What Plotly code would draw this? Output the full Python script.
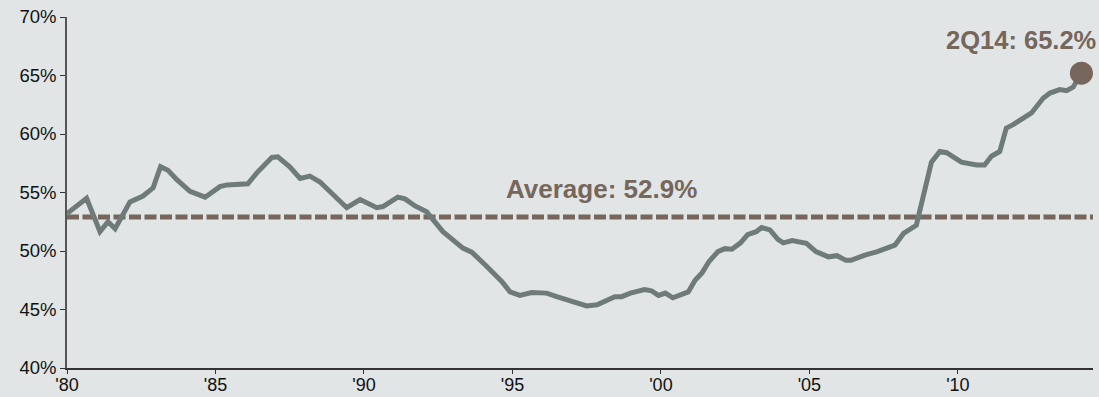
import plotly.graph_objects as go

# Quarterly share series (decimal year, percent)
years = [
    1980.0, 1980.5, 1980.66, 1981.11, 1981.38, 1981.62, 1982.12, 1982.56, 1982.9,
    1983.15, 1983.4, 1983.7, 1984.14, 1984.65, 1985.15, 1985.39, 1986.09, 1986.4,
    1986.9, 1987.1, 1987.5, 1987.85, 1988.18, 1988.52, 1988.96, 1989.42, 1989.87,
    1990.43, 1990.64, 1991.14, 1991.38, 1991.72, 1992.11, 1992.32, 1992.66,
    1993.33, 1993.63, 1994.13, 1994.64, 1994.92, 1995.25, 1995.65, 1996.15,
    1996.49, 1997.07, 1997.5, 1997.85, 1998.15, 1998.45, 1998.68, 1998.97,
    1999.45, 1999.68, 1999.92, 2000.15, 2000.4, 2000.68, 2000.92, 2001.15,
    2001.39, 2001.62, 2001.92, 2002.15, 2002.39, 2002.68, 2002.92, 2003.21,
    2003.39, 2003.67, 2003.94, 2004.12, 2004.42, 2004.9, 2005.22, 2005.64,
    2005.93, 2006.23, 2006.4, 2006.87, 2007.29, 2007.88, 2008.17, 2008.6,
    2008.89, 2009.11, 2009.39, 2009.62, 2010.12, 2010.63, 2010.9, 2011.13,
    2011.41, 2011.63, 2011.86, 2012.14, 2012.48, 2012.87, 2013.1, 2013.43,
    2013.66, 2013.88, 2014.16,
]
share = [
    53.2, 54.1, 54.5, 51.65, 52.5, 51.9, 54.2, 54.7, 55.4,
    57.2, 56.9, 56.1, 55.1, 54.6, 55.5, 55.65, 55.75, 56.7,
    58.0, 58.05, 57.2, 56.2, 56.4, 55.9, 54.8, 53.7, 54.4,
    53.7, 53.8, 54.6, 54.45, 53.85, 53.35, 52.65, 51.65,
    50.25, 49.9, 48.7, 47.4, 46.5, 46.2, 46.45, 46.4,
    46.1, 45.7, 45.3, 45.4, 45.7, 46.1, 46.1, 46.4,
    46.7, 46.6, 46.2, 46.4, 46.0, 46.3, 46.5, 47.5,
    48.15, 49.1, 49.95, 50.2, 50.15, 50.7, 51.4, 51.65,
    52.0, 51.8, 51.0, 50.7, 50.9, 50.65, 49.95, 49.5,
    49.6, 49.2, 49.2, 49.65, 49.95, 50.5, 51.5, 52.2,
    55.5, 57.6, 58.5, 58.4, 57.6, 57.35, 57.35, 58.1,
    58.5, 60.5, 60.8, 61.25, 61.8, 63.05, 63.5, 63.8,
    63.7, 64.0, 65.2,
]

average_value = 52.9
latest_label = "2Q14"
x_ticks = [1980, 1985, 1990, 1995, 2000, 2005, 2010]
x_tick_text = ["'80", "'85", "'90", "'95", "'00", "'05", "'10"]
y_ticks = [40, 45, 50, 55, 60, 65, 70]
y_tick_text = ["40%", "45%", "50%", "55%", "60%", "65%", "70%"]

BG = "#E1E5E6"
LINE = "#6F7B7B"
BROWN = "#76665B"
FONT = "Liberation Sans, Arial, sans-serif"

x_min, x_max = 1980, 2014.55

fig = go.Figure()

# Long-run average (dashed)
fig.add_trace(go.Scatter(
    x=[x_min, x_max], y=[average_value, average_value],
    mode="lines",
    line=dict(color=BROWN, width=5, dash="12px,3.5px"),
    hoverinfo="skip", showlegend=False,
))

# Main series
fig.add_trace(go.Scatter(
    x=years, y=share, mode="lines",
    line=dict(color=LINE, width=5, shape="linear"),
    showlegend=False,
))

# Latest observation marker
fig.add_trace(go.Scatter(
    x=[years[-1]], y=[share[-1]], mode="markers",
    marker=dict(color=BROWN, size=23, line=dict(width=0)),
    showlegend=False,
))

fig.add_annotation(
    x=1998.0, y=55.3, xref="x", yref="y",
    text=f"<b>Average: {average_value:.1f}%</b>",
    showarrow=False, font=dict(family=FONT, size=26, color=BROWN),
)
fig.add_annotation(
    x=1.005, xref="paper", xanchor="right", y=68.0, yref="y",
    text=f"<b>{latest_label}: {share[-1]:.1f}%</b>",
    showarrow=False, font=dict(family=FONT, size=25.5, color=BROWN),
)

fig.update_layout(
    width=1099, height=397,
    margin=dict(l=67, r=6, t=17, b=29),
    paper_bgcolor=BG, plot_bgcolor=BG,
    font=dict(family=FONT, size=18.5, color="#111111"),
)
fig.update_xaxes(
    range=[x_min, x_max], tickvals=x_ticks, ticktext=x_tick_text,
    showgrid=False, zeroline=False, automargin=False,
    showline=True, linecolor="#333333", linewidth=1.5,
    ticks="outside", ticklen=4, tickcolor="#333333", tickwidth=1,
    tickfont=dict(size=18), ticklabelstandoff=-4,
)
fig.update_yaxes(
    range=[40, 70], tickvals=y_ticks, ticktext=y_tick_text,
    showgrid=False, zeroline=False, automargin=False,
    showline=True, linecolor="#555555", linewidth=1.5,
    ticks="outside", ticklen=5, tickcolor="#333333", tickwidth=1,
    tickfont=dict(size=18.5),
)

fig.write_html("out.html")
